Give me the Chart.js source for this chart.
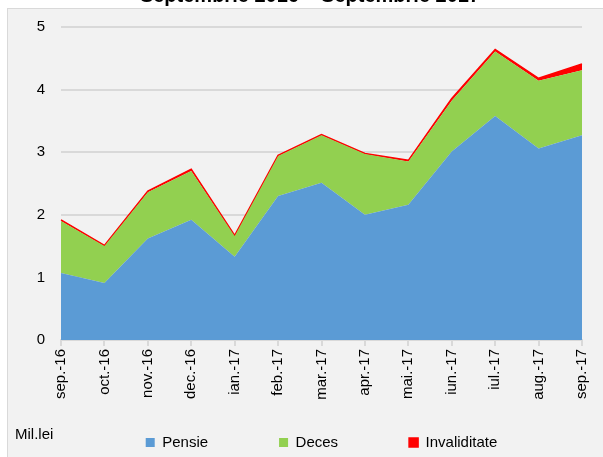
<!DOCTYPE html>
<html lang="ro">
<head>
<meta charset="utf-8">
<title>Septembrie 2016 - Septembrie 2017</title>
<style>
  html, body { margin: 0; padding: 0; background: #fff; }
  #wrap { position: relative; width: 603px; height: 457px; }
  canvas { display: block; }
</style>
</head>
<body>
<div id="wrap"><canvas id="myChart" width="603" height="457"></canvas></div>

<script src="https://cdn.jsdelivr.net/npm/chart.js"></script>
<script>
  // data (Mil.lei)
  const months = ['sep.-16','oct.-16','nov.-16','dec.-16','ian.-17','feb.-17','mar.-17',
                  'apr.-17','mai.-17','iun.-17','iul.-17','aug.-17','sep.-17'];
  const pensie = [1.07, 0.91, 1.62, 1.92, 1.33, 2.30, 2.51, 2.00, 2.16, 3.01, 3.58, 3.06, 3.27];
  const deces  = [0.83, 0.59, 0.74, 0.78, 0.33, 0.64, 0.76, 0.97, 0.69, 0.81, 1.03, 1.08, 1.04];
  const invaliditate = [0.02, 0.01, 0.02, 0.03, 0.01, 0.01, 0.01, 0.01, 0.02, 0.04, 0.03, 0.04, 0.10];
  const yTicks = [0, 1, 2, 3, 4, 5];

  const titleText = 'Septembrie 2016 \u2013 Septembrie 2017';
  const unitText = 'Mil.lei';
  const FONT = '"Liberation Sans", Arial, sans-serif';

  // gray panel behind the chart, plus the cut-off title and unit label
  const panel = {
    id: 'panel',
    beforeDraw(chart) {
      const c = chart.ctx;
      c.save();
      c.fillStyle = '#ffffff';
      c.fillRect(0, 0, chart.width, chart.height);
      c.fillStyle = '#f2f2f2';
      c.fillRect(7, 8, chart.width - 7, chart.height - 8);
      c.strokeStyle = '#d9d9d9';
      c.lineWidth = 1;
      c.strokeRect(7.5, 8.5, chart.width, chart.height);
      c.restore();
    },
    afterDraw(chart) {
      const c = chart.ctx;
      c.save();
      c.fillStyle = '#000';
      c.font = 'bold 20px ' + FONT;
      c.textAlign = 'center';
      c.textBaseline = 'alphabetic';
      c.fillText(titleText, 310, 2);
      c.font = '15px ' + FONT;
      c.textAlign = 'left';
      c.textBaseline = 'middle';
      c.fillText(unitText, 15, 435);
      c.restore();
    }
  };

  const ctx = document.getElementById('myChart');

  const our_chart = new Chart(ctx, {
    type: 'line',
    data: {
      labels: months,
      datasets: [{
        label: 'Pensie',
        data: pensie,
        backgroundColor: '#5b9bd5',
        borderColor: '#5b9bd5',
        borderWidth: 0,
        fill: 'origin'
      }, {
        label: 'Deces',
        data: deces,
        backgroundColor: '#92d050',
        borderColor: '#92d050',
        borderWidth: 0,
        fill: '-1'
      }, {
        label: 'Invaliditate',
        data: invaliditate,
        backgroundColor: '#ff0000',
        borderColor: '#ff0000',
        borderWidth: 1.5,
        fill: '-1'
      }]
    },
    options: {
      responsive: false,
      animation: false,
      elements: { point: { radius: 0 }, line: { tension: 0 } },
      layout: { padding: { top: 27, right: 19, left: 0, bottom: -3 } },
      plugins: {
        tooltip: { enabled: false },
        legend: {
          position: 'bottom',
          fullSize: false,
          labels: {
            font: { size: 15, family: FONT },
            color: '#000',
            boxWidth: 9,
            boxHeight: 9,
            padding: 71
          }
        }
      },
      scales: {
        x: {
          offset: false,
          grid: {
            drawOnChartArea: false,
            drawTicks: true,
            tickLength: 6,
            color: '#d9d9d9',
            lineWidth: 2
          },
          border: { color: '#d9d9d9', width: 2 },
          ticks: {
            minRotation: 90, maxRotation: 90,
            autoSkip: false,
            padding: 3,
            color: '#000',
            font: { size: 15, family: FONT }
          },
          // keep the axis box short so the legend sits low, and let the labels spill below it
          afterFit: (axis) => { axis.height = 24; },
          afterUpdate: (axis) => { axis._computeLabelArea = () => undefined; }
        },
        y: {
          stacked: true,
          min: 0, max: 5,
          afterBuildTicks: (axis) => { axis.ticks = yTicks.map(v => ({ value: v })); },
          grid: { color: '#d9d9d9', lineWidth: 2, drawTicks: false },
          border: { display: false },
          ticks: {
            padding: 16,
            color: '#000',
            font: { size: 15, family: FONT }
          },
          afterFit: (axis) => { axis.width = 61; }
        }
      }
    },
    plugins: [panel]
  });
</script>
</body>
</html>
